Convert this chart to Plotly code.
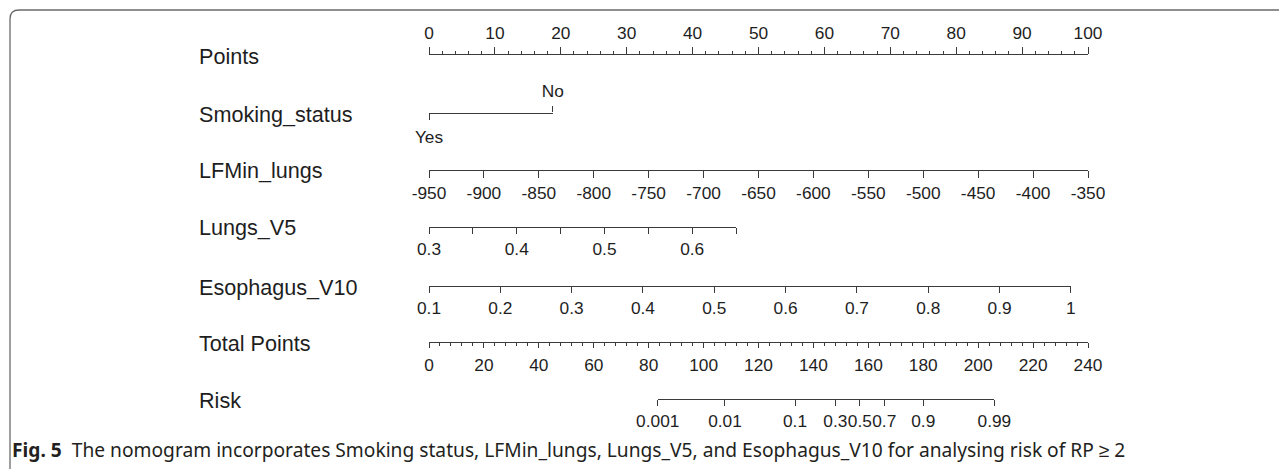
import plotly.graph_objects as go

# ---------------- data ----------------
row_labels = ["Points", "Smoking_status", "LFMin_lungs", "Lungs_V5",
              "Esophagus_V10", "Total Points", "Risk"]

points_ticks = [0, 10, 20, 30, 40, 50, 60, 70, 80, 90, 100]

smoking_levels = ["Yes", "No"]
smoking_points = [0, 18.8]

lfmin_ticks = [-950, -900, -850, -800, -750, -700, -650, -600, -550, -500, -450, -400, -350]
lfmin_points = [0, 100]          # points at -950 and -350

lungs_ticks = [0.3, 0.35, 0.4, 0.45, 0.5, 0.55, 0.6, 0.65]
lungs_labels = ["0.3", "", "0.4", "", "0.5", "", "0.6", ""]
lungs_points = [0, 46.6]         # points at 0.3 and 0.65

eso_ticks = [0.1, 0.2, 0.3, 0.4, 0.5, 0.6, 0.7, 0.8, 0.9, 1.0]
eso_labels = ["0.1", "0.2", "0.3", "0.4", "0.5", "0.6", "0.7", "0.8", "0.9", "1"]
eso_points = [0, 97.4]           # points at 0.1 and 1

total_ticks = [0, 20, 40, 60, 80, 100, 120, 140, 160, 180, 200, 220, 240]

risk_labels = ["0.001", "0.01", "0.1", "0.3", "0.5", "0.7", "0.9", "0.99"]
risk_total_points = [83.3, 107.8, 133.3, 148.0, 156.9, 165.8, 180.0, 205.9]

caption_bold = "Fig. 5"
caption_text = ("The nomogram incorporates Smoking status, LFMin_lungs, Lungs_V5, "
                "and Esophagus_V10 for analysing risk of RP \u2265 2")

# ---------------- layout helpers ----------------
OFF = 8                          # page body margin
W, H = 1287 - OFF, 469 - OFF     # figure size
P0, P1 = 429.0, 1088.0          # screen pixel span of the 0-100 points scale
TOTAL_MAX = 240.0
row_y = [55, 113, 170, 227, 286, 342, 399]
label_x = 197
LINE = "#3a3a3a"
TXT = "#1e1e1e"
FONT = "Liberation Sans, Arial, sans-serif"
TICKFONT = dict(family=FONT, size=17.3, color=TXT)


def fx(px):
    return (px - OFF) / W


def fy(py):
    return 1 - (py - OFF) / H


def pts_px(p):
    return P0 + p * (P1 - P0) / 100.0


def tot_px(t):
    return P0 + t * (P1 - P0) / TOTAL_MAX


fig = go.Figure()
layout = {}
eps = 0.0005


def add_row_axis(n, x0px, x1px, yline, side, rng, tickvals, ticktext,
                 ticklen=7, minor=None, standoff=0):
    xa = "xaxis" if n == 1 else f"xaxis{n}"
    ya = "yaxis" if n == 1 else f"yaxis{n}"
    yid = "y" if n == 1 else f"y{n}"
    xid = "x" if n == 1 else f"x{n}"
    ax = dict(domain=[fx(x0px), fx(x1px)], range=rng, anchor=yid, side=side,
              showline=True, linecolor=LINE, linewidth=1.3,
              ticks="outside", ticklen=ticklen, tickwidth=1.3, tickcolor=LINE,
              tickvals=tickvals, ticktext=ticktext, tickfont=TICKFONT, tickangle=0,
              showgrid=False, zeroline=False, automargin=False, fixedrange=True,
              ticklabelstandoff=standoff)
    if minor is not None:
        ax["minor"] = minor
    layout[xa] = ax
    if side == "top":
        dom = [fy(yline) - eps, fy(yline)]
    else:
        dom = [fy(yline), fy(yline) + eps]
    layout[ya] = dict(domain=dom, range=[0, 1], visible=False, fixedrange=True)
    fig.add_trace(go.Scatter(x=[rng[0]], y=[0.5], xaxis=xid, yaxis=yid,
                             mode="markers", marker=dict(opacity=0),
                             hoverinfo="skip", showlegend=False))


# Points
add_row_axis(1, P0, P1, row_y[0], "top", [0, 100], points_ticks,
             [str(v) for v in points_ticks], ticklen=7, standoff=1,
             minor=dict(dtick=2, tick0=0, ticklen=3, ticks="outside",
                        tickcolor=LINE, tickwidth=1.2, showgrid=False))

# Smoking status
add_row_axis(2, pts_px(min(smoking_points)), pts_px(max(smoking_points)), row_y[1],
             "bottom", [min(smoking_points), max(smoking_points)],
             [smoking_points[0]], [smoking_levels[0]], ticklen=6, standoff=2)
layout["xaxis8"] = dict(overlaying="x2", anchor="y2", side="top",
                        range=[min(smoking_points), max(smoking_points)],
                        showline=False, ticks="outside", ticklen=6, tickwidth=1.3,
                        tickcolor=LINE, tickvals=[smoking_points[1]],
                        ticktext=[smoking_levels[1]], tickfont=TICKFONT, tickangle=0,
                        showgrid=False, zeroline=False, automargin=False,
                        fixedrange=True, ticklabelstandoff=2)
fig.add_trace(go.Scatter(x=[0], y=[0.5], xaxis="x8", yaxis="y2", mode="markers",
                         marker=dict(opacity=0), hoverinfo="skip", showlegend=False))

# LFMin_lungs
add_row_axis(3, pts_px(lfmin_points[0]), pts_px(lfmin_points[1]), row_y[2], "bottom",
             [lfmin_ticks[0], lfmin_ticks[-1]], lfmin_ticks,
             [str(v) for v in lfmin_ticks], ticklen=7)

# Lungs_V5
add_row_axis(4, pts_px(lungs_points[0]), pts_px(lungs_points[1]), row_y[3], "bottom",
             [lungs_ticks[0], lungs_ticks[-1]], lungs_ticks, lungs_labels, ticklen=6)

# Esophagus_V10
add_row_axis(5, pts_px(eso_points[0]), pts_px(eso_points[1]), row_y[4], "bottom",
             [eso_ticks[0], eso_ticks[-1]], eso_ticks, eso_labels, ticklen=6)

# Total Points
add_row_axis(6, P0, P1, row_y[5], "bottom", [0, TOTAL_MAX], total_ticks,
             [str(v) for v in total_ticks], ticklen=5, standoff=2,
             minor=dict(dtick=4, tick0=0, ticklen=3, ticks="outside",
                        tickcolor=LINE, tickwidth=1.2, showgrid=False))

# Risk
add_row_axis(7, tot_px(risk_total_points[0]), tot_px(risk_total_points[-1]), row_y[6],
             "bottom", [risk_total_points[0], risk_total_points[-1]],
             risk_total_points, risk_labels, ticklen=6)

# Row labels
annotations = []
for lab, yy in zip(row_labels, row_y):
    annotations.append(dict(x=fx(label_x), y=fy(yy + 1), xref="paper", yref="paper",
                            text=lab, showarrow=False, xanchor="left", yanchor="middle",
                            font=dict(family=FONT, size=21.6, color=TXT)))

# Caption
annotations.append(dict(x=fx(10), y=fy(449), xref="paper", yref="paper",
                        text=f"<b>{caption_bold}</b>  {caption_text}", showarrow=False,
                        xanchor="left", yanchor="middle",
                        font=dict(family="Noto Sans, sans-serif", size=19.2,
                                  color="#231f20")))

# Frame (rounded top-left corner, open to the right and bottom)
r = 9
frame_path = (f"M {fx(10)},{fy(H + OFF + 5)} L {fx(10)},{fy(10 + r)} "
              f"Q {fx(10)},{fy(10)} {fx(10 + r)},{fy(10)} L {fx(W + OFF + 5)},{fy(10)}")
shapes = [dict(type="path", xref="paper", yref="paper", path=frame_path,
               line=dict(color="#6b6b6b", width=1.3))]

fig.update_layout(**layout)
fig.update_layout(width=W, height=H, autosize=False, template="none",
                  margin=dict(l=0, r=0, t=0, b=0, pad=0),
                  paper_bgcolor="white", plot_bgcolor="rgba(0,0,0,0)",
                  showlegend=False, annotations=annotations, shapes=shapes)

fig.write_html("out.html", config={"displayModeBar": False})
